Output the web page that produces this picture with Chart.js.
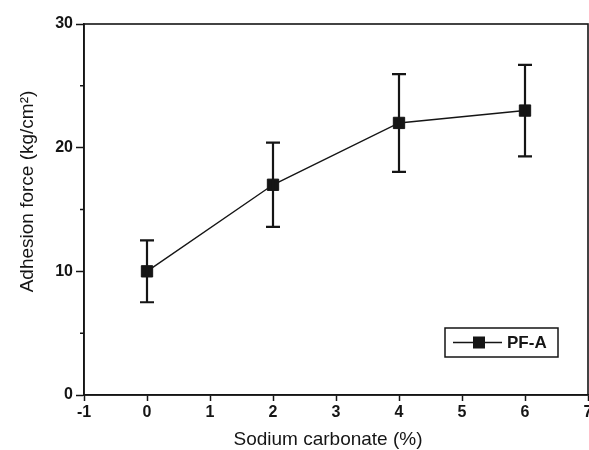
<!DOCTYPE html>
<html>
<head>
<meta charset="utf-8">
<script src="https://cdn.jsdelivr.net/npm/chart.js@4.4.1/dist/chart.umd.min.js"></script>
<style>
  html, body { margin: 0; padding: 0; background: #fff; overflow: hidden; }
  /* the frame runs to the right edge, so the last x label is cut off */
  #wrap { width: 597px; height: 450px; }
</style>
</head>
<body>
<div id="wrap"><canvas id="myChart"></canvas></div>
<script>
const sodium = [0, 2, 4, 6];
const adhesion = [10.0, 17.0, 22.0, 23.0];
const errors = [2.5, 3.4, 3.95, 3.7];
const xTicks = [-1, 0, 1, 2, 3, 4, 5, 6, 7];
const yTicks = [0, 10, 20, 30];
const yMinorTicks = [5, 15, 25];
const seriesName = 'PF-A';
const xTitle = 'Sodium carbonate (%)';
const yTitle = 'Adhesion force (kg/cm²)';

const ink = '#151515';
const fontFamily = '"Liberation Sans", Arial, sans-serif';

// vertical error bars with caps, one per point
const errorBars = {
  id: 'errorBars',
  afterDatasetsDraw(chart) {
    const { ctx, scales: { x, y } } = chart;
    ctx.save();
    ctx.strokeStyle = ink;
    ctx.lineWidth = 2.2;
    sodium.forEach((s, i) => {
      const px = x.getPixelForValue(s);
      const top = y.getPixelForValue(adhesion[i] + errors[i]);
      const bot = y.getPixelForValue(adhesion[i] - errors[i]);
      ctx.beginPath();
      ctx.moveTo(px, top);
      ctx.lineTo(px, bot);
      ctx.moveTo(px - 7, top);
      ctx.lineTo(px + 7, top);
      ctx.moveTo(px - 7, bot);
      ctx.lineTo(px + 7, bot);
      ctx.stroke();
    });
    ctx.restore();
  }
};

// closed frame, short minor ticks on y, axis titles and the boxed legend
const frameAndLegend = {
  id: 'frameAndLegend',
  afterDraw(chart) {
    const { ctx, chartArea: a, scales: { y } } = chart;
    ctx.save();
    ctx.strokeStyle = ink;
    ctx.lineWidth = 1.6;
    ctx.strokeRect(a.left, a.top, a.right - a.left, a.bottom - a.top);

    ctx.lineWidth = 1.5;
    ctx.beginPath();
    yMinorTicks.forEach(v => {
      const py = y.getPixelForValue(v);
      ctx.moveTo(a.left - 4, py);
      ctx.lineTo(a.left, py);
    });
    ctx.stroke();

    // axis titles sit a little off the plot centre
    ctx.fillStyle = ink;
    ctx.font = '19px ' + fontFamily;
    ctx.textAlign = 'center';
    ctx.textBaseline = 'middle';
    ctx.fillText(xTitle, (a.left + a.right) / 2 - 8, a.bottom + 45);
    ctx.save();
    ctx.translate(a.left - 56, (a.top + a.bottom) / 2 - 18);
    ctx.rotate(-Math.PI / 2);
    ctx.fillText(yTitle, 0, 0);
    ctx.restore();

    const w = 113, h = 29;
    const bx = a.right - 30 - w, by = a.bottom - 38 - h;
    ctx.strokeRect(bx, by, w, h);
    const cy = by + h / 2;
    ctx.lineWidth = 1.5;
    ctx.beginPath();
    ctx.moveTo(bx + 8, cy);
    ctx.lineTo(bx + 57, cy);
    ctx.stroke();
    ctx.fillRect(bx + 28, cy - 6, 12, 12);
    ctx.font = 'bold 17px ' + fontFamily;
    ctx.textAlign = 'left';
    ctx.fillText(seriesName, bx + 62, cy + 1);
    ctx.restore();
  }
};

const ctx = document.getElementById('myChart').getContext('2d');

const data = {
  datasets: [{
    label: seriesName,
    data: sodium.map((s, i) => ({ x: s, y: adhesion[i] })),
    borderColor: ink,
    backgroundColor: ink,
    borderWidth: 1.4,
    pointStyle: 'rect',
    pointRadius: 8,
    pointBorderWidth: 1,
    pointBackgroundColor: ink,
    pointBorderColor: ink,
    showLine: true,
    tension: 0
  }]
};

const config = {
  type: 'scatter',
  data: data,
  options: {
    responsive: true,
    maintainAspectRatio: false,
    animation: false,
    layout: { padding: { top: 24, right: 0, left: 0, bottom: 0 } },
    scales: {
      x: {
        type: 'linear',
        min: -1,
        max: 7,
        afterBuildTicks: (scale) => { scale.ticks = xTicks.map(v => ({ value: v })); },
        afterFit: (scale) => { scale.height = 55; },
        grid: {
          drawOnChartArea: false,
          drawTicks: true,
          tickLength: 6,
          tickWidth: 1.5,
          tickColor: ink
        },
        border: { display: true, color: ink, width: 1.6 },
        ticks: {
          color: ink,
          padding: 2,
          maxRotation: 0,
          font: { family: fontFamily, size: 16, weight: 'bold' }
        }
      },
      y: {
        min: 0,
        max: 30,
        afterBuildTicks: (scale) => { scale.ticks = yTicks.map(v => ({ value: v })); },
        afterFit: (scale) => { scale.width = 84; },
        grid: {
          drawOnChartArea: false,
          drawTicks: true,
          tickLength: 8,
          tickWidth: 1.5,
          tickColor: ink
        },
        border: { display: true, color: ink, width: 1.6 },
        ticks: {
          color: ink,
          padding: 3,
          font: { family: fontFamily, size: 16, weight: 'bold' }
        }
      }
    },
    plugins: {
      legend: { display: false },
      tooltip: { enabled: false }
    }
  },
  plugins: [errorBars, frameAndLegend]
};

const myChart = new Chart(ctx, config);
</script>
</body>
</html>
